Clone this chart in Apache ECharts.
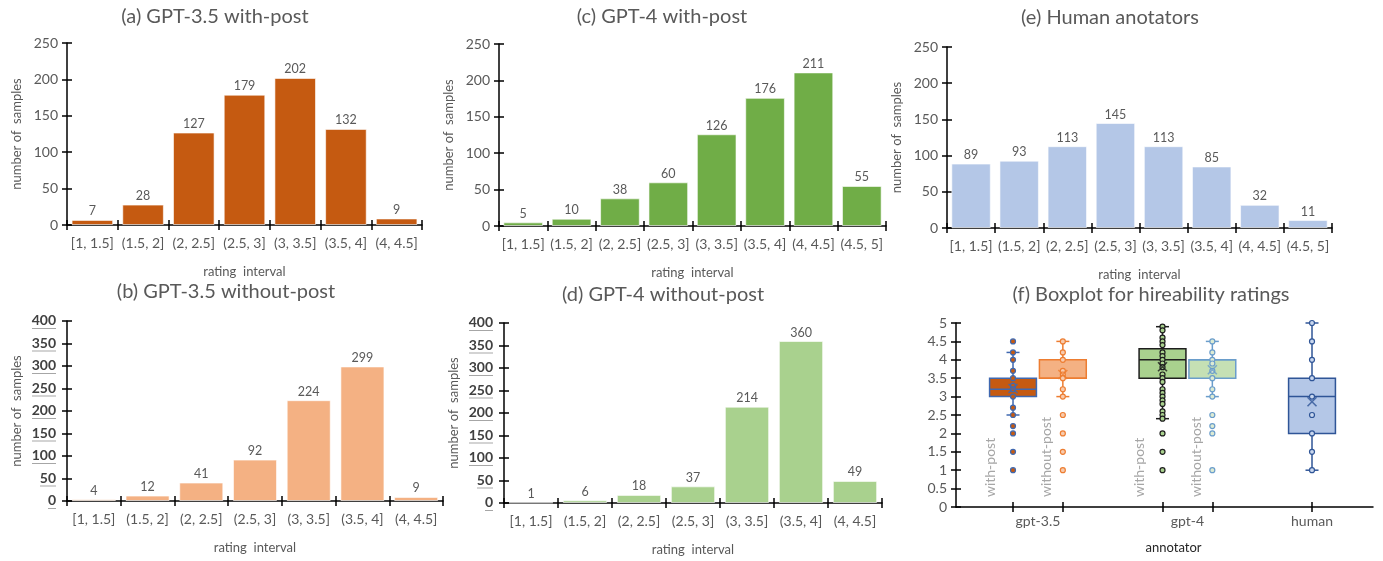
<!DOCTYPE html>
<html><head><meta charset="utf-8">
<script src="https://cdn.jsdelivr.net/npm/echarts@6/dist/echarts.min.js"></script>
<style>html,body{margin:0;padding:0;background:#fff}#c{width:1383px;height:561px}</style>
</head><body><div id="c"></div>
<script>
// ---------------- data ----------------
const intervals7 = ['[1, 1.5]', '(1.5, 2]', '(2, 2.5]', '(2.5, 3]', '(3, 3.5]', '(3.5, 4]', '(4, 4.5]'];
const intervals8 = ['[1, 1.5]', '(1.5, 2]', '(2, 2.5]', '(2.5, 3]', '(3, 3.5]', '(3.5, 4]', '(4, 4.5]', '(4.5, 5]'];
const gpt35WithPost = [7, 28, 127, 179, 202, 132, 9];
const gpt35WithoutPost = [4, 12, 41, 92, 224, 299, 9];
const gpt4WithPost = [5, 10, 38, 60, 126, 176, 211, 55];
const gpt4WithoutPost = [1, 6, 18, 37, 214, 360, 49];
const humanCounts = [89, 93, 113, 145, 113, 85, 32, 11];

const annotatorGroups = ['gpt-3.5', 'gpt-4', 'human'];
const boxGroup = [0, 0, 1, 1, 2];
const boxSub = [0, 1, 0, 1, 0];
const boxLabels = ['with-post', 'without-post', 'with-post', 'without-post', ''];
const boxWhiskerLow = [2.5, 3.0, 2.4, 3.0, 1.0];
const boxQ1 = [3.0, 3.5, 3.5, 3.5, 2.0];
const boxMedian = [3.2, 3.5, 4.0, 4.0, 3.0];
const boxQ3 = [3.5, 4.0, 4.3, 4.0, 3.5];
const boxWhiskerHigh = [4.2, 4.5, 4.9, 4.5, 5.0];
const boxMean = [3.22, 3.6, 3.81, 3.73, 2.86];
const pointsGpt35With = [4.5, 4.2, 4.0, 3.7, 3.5, 3.3, 3.2, 3.0, 2.7, 2.5, 2.2, 2.0, 1.5, 1.0];
const pointsGpt35Without = [4.5, 4.2, 4.0, 3.7, 3.6, 3.5, 3.2, 3.0, 2.5, 2.0, 1.5, 1.0];
const pointsGpt4With = [4.9, 4.8, 4.6, 4.5, 4.4, 4.2, 4.1, 4.0, 3.9, 3.8, 3.6, 3.5, 3.4, 3.2, 3.1, 3.0, 2.9, 2.8, 2.6, 2.5, 2.4, 2.0, 1.5, 1.0];
const pointsGpt4Without = [4.5, 4.2, 4.0, 3.9, 3.7, 3.5, 3.2, 3.0, 2.5, 2.2, 2.0, 1.0];
const pointsHuman = [5.0, 4.5, 4.0, 3.5, 3.0, 2.5, 2.0, 1.5, 1.0];
const boxPoints = [pointsGpt35With, pointsGpt35Without, pointsGpt4With, pointsGpt4Without, pointsHuman];

// ---------------- styles / layout ----------------
const FONT = 'Lato';
const GRAY = '#595959';
const boxFill = ['#C55A11', '#F4B183', '#A9D18E', '#C5E0B4', '#B4C7E7'];
const boxStroke = ['#3F68B0', '#ED7D31', '#1E1E1E', '#6A9DCB', '#2F5597'];
const dotFill = ['#C55A11', '#F8CBAD', '#A9D18E', '#DDEBD3', '#C9D7EE'];

const panels = [
  { title: '(a) GPT-3.5 with-post', cats: intervals7, vals: gpt35WithPost, color: '#C55A11', max: 250, rect: [67, 43, 355, 182], t: [215, 17], bold: false },
  { title: '(b) GPT-3.5 without-post', cats: intervals7, vals: gpt35WithoutPost, color: '#F4B183', max: 400, rect: [67, 321, 376, 180], t: [226, 292], bold: true },
  { title: '(c) GPT-4 with-post', cats: intervals8, vals: gpt4WithPost, color: '#70AD47', max: 250, rect: [499, 44, 387, 182], t: [662, 17], bold: false },
  { title: '(d) GPT-4 without-post', cats: intervals7, vals: gpt4WithoutPost, color: '#A9D18E', max: 400, rect: [504, 323, 378, 180], t: [663, 295], bold: true },
  { title: '(e) Human anotators', cats: intervals8, vals: humanCounts, color: '#B4C7E7', max: 250, rect: [947, 47, 385, 181], t: [1110, 18], bold: false }
];

const grids = [], xAxes = [], yAxes = [], series = [], graphics = [];
const axisLineStyle = { color: '#000', width: 1.5 };

panels.forEach((p, i) => {
  grids.push({ left: p.rect[0], top: p.rect[1], width: p.rect[2], height: p.rect[3], outerBoundsMode: 'none' });
  const xMain = {
    type: 'category', gridIndex: i, data: p.cats, position: 'bottom',
    axisLine: { show: true, lineStyle: axisLineStyle },
    axisTick: { show: true, alignWithLabel: false, interval: 0, length: 5, lineStyle: axisLineStyle },
    axisLabel: { interval: 0, color: GRAY, fontSize: 14, margin: 11, fontFamily: FONT },
    name: 'rating  interval', nameLocation: 'middle', nameGap: 40, nameMoveOverlap: false,
    nameTextStyle: { color: GRAY, fontSize: 13, fontFamily: FONT }
  };
  const xDup = {
    type: 'category', gridIndex: i, data: p.cats, position: 'bottom',
    axisLine: { show: false }, axisLabel: { show: false },
    axisTick: { show: true, inside: true, interval: 0, length: 5, lineStyle: axisLineStyle }
  };
  const labelCfg = p.bold ? {
    color: '#404040', fontSize: 14, margin: 11, fontFamily: FONT,
    formatter: v => '{n|' + v + '}\n{u' + String(v).length + '|}',
    rich: {
      n: { fontWeight: 'bold', color: '#404040', fontSize: 14, lineHeight: 15, fontFamily: FONT },
      u1: { width: 8, height: 1, backgroundColor: '#A6A6A6' },
      u2: { width: 16, height: 1, backgroundColor: '#A6A6A6' },
      u3: { width: 24, height: 1, backgroundColor: '#A6A6A6' }
    }
  } : { color: GRAY, fontSize: 14, margin: 9, fontFamily: FONT };
  const yMain = {
    type: 'value', gridIndex: i, min: 0, max: p.max, interval: 50, position: 'left',
    axisLine: { show: true, onZero: false, lineStyle: axisLineStyle },
    axisTick: { show: true, length: 5, lineStyle: axisLineStyle },
    splitLine: { show: false },
    axisLabel: labelCfg,
    name: 'number of  samples', nameLocation: 'middle', nameGap: 44, nameMoveOverlap: false,
    nameTextStyle: { color: GRAY, fontSize: 13, fontFamily: FONT }
  };
  const yDup = {
    type: 'value', gridIndex: i, min: 0, max: p.max, interval: 50, position: 'left',
    axisLine: { show: false, onZero: false }, axisLabel: { show: false }, splitLine: { show: false },
    axisTick: { show: true, inside: true, length: 5, lineStyle: axisLineStyle }
  };
  xAxes.push(xMain, xDup);
  yAxes.push(yMain, yDup);
  series.push({
    type: 'bar', xAxisIndex: 2 * i, yAxisIndex: 2 * i, data: p.vals,
    barCategoryGap: '18%',
    itemStyle: { color: p.color, borderColor: 'rgba(255,255,255,0.6)', borderWidth: 1 },
    label: { show: true, position: 'top', distance: 2, color: GRAY, fontSize: 12.5, fontFamily: FONT }
  });
  graphics.push({ type: 'text', x: p.t[0], y: p.t[1], style: { text: p.title, fill: GRAY, font: '20px Lato', align: 'center', verticalAlign: 'middle' } });
});

// ---------------- boxplot panel (f) ----------------
const fi = panels.length; // grid index 5
const slots = boxGroup.map((g, i) => g * 3 + boxSub[i]);
const groupCenters = annotatorGroups.map((g, gi) => {
  const s = slots.filter((_, i) => boxGroup[i] === gi);
  return s.reduce((a, b) => a + b, 0) / s.length;
});
const XMIN = -1.144, XMAX = 7.224;
grids.push({ left: 956, top: 323, width: 417, height: 184, outerBoundsMode: 'none' });
xAxes.push({
  type: 'value', gridIndex: fi, min: XMIN, max: XMAX, position: 'bottom',
  axisLine: { show: true, onZero: false, lineStyle: axisLineStyle },
  axisTick: { show: true, customValues: slots, length: 5, lineStyle: axisLineStyle },
  axisLabel: { customValues: groupCenters, color: GRAY, fontSize: 14, margin: 7, fontFamily: FONT,
    formatter: v => annotatorGroups[Math.floor(v / 3)] },
  splitLine: { show: false },
  name: 'annotator', nameLocation: 'middle', nameGap: 34, nameMoveOverlap: false,
  nameTextStyle: { color: '#262626', fontSize: 13, fontFamily: FONT, padding: [0, 0, 0, 18] }
}, {
  type: 'value', gridIndex: fi, min: XMIN, max: XMAX, position: 'bottom',
  axisLine: { show: false, onZero: false }, axisLabel: { show: false }, splitLine: { show: false },
  axisTick: { show: true, inside: true, customValues: slots, length: 5, lineStyle: axisLineStyle }
});
yAxes.push({
  type: 'value', gridIndex: fi, min: 0, max: 5, interval: 0.5, position: 'left',
  axisLine: { show: true, onZero: false, lineStyle: axisLineStyle },
  axisTick: { show: true, length: 5, lineStyle: axisLineStyle },
  splitLine: { show: false },
  axisLabel: { color: GRAY, fontSize: 14, margin: 9, fontFamily: FONT }
}, {
  type: 'value', gridIndex: fi, min: 0, max: 5, interval: 0.5, position: 'left',
  axisLine: { show: false, onZero: false }, axisLabel: { show: false }, splitLine: { show: false },
  axisTick: { show: true, inside: true, length: 5, lineStyle: axisLineStyle }
});

const boxData = slots.map((s, i) => [s, boxWhiskerLow[i], boxQ1[i], boxMedian[i], boxQ3[i], boxWhiskerHigh[i]]);
series.push({
  type: 'custom', xAxisIndex: 2 * fi, yAxisIndex: 2 * fi, data: boxData, z: 2,
  encode: { x: 0, y: [1, 2, 3, 4, 5] },
  renderItem: (params, api) => {
    const i = params.dataIndex;
    const x = api.value(0);
    const lo = api.coord([x, api.value(1)]);
    const q1 = api.coord([x, api.value(2)]);
    const md = api.coord([x, api.value(3)]);
    const q3 = api.coord([x, api.value(4)]);
    const hi = api.coord([x, api.value(5)]);
    const bw = api.size([0.94, 0])[0];
    const cx = lo[0];
    const cap = 6.5;
    const stroke = boxStroke[i];
    const ls = { stroke: stroke, lineWidth: 1.5, fill: null };
    const children = [
      { type: 'line', shape: { x1: cx, y1: q3[1], x2: cx, y2: hi[1] }, style: ls },
      { type: 'line', shape: { x1: cx, y1: q1[1], x2: cx, y2: lo[1] }, style: ls },
      { type: 'line', shape: { x1: cx - cap, y1: hi[1], x2: cx + cap, y2: hi[1] }, style: ls },
      { type: 'line', shape: { x1: cx - cap, y1: lo[1], x2: cx + cap, y2: lo[1] }, style: ls },
      { type: 'rect', shape: { x: cx - bw / 2, y: q3[1], width: bw, height: q1[1] - q3[1] }, style: { fill: boxFill[i], stroke: stroke, lineWidth: 1.5 } },
      { type: 'line', shape: { x1: cx - bw / 2, y1: md[1], x2: cx + bw / 2, y2: md[1] }, style: ls }
    ];
    if (boxLabels[i]) {
      const tp = api.coord([x, 0.27]);
      children.push({
        type: 'text', x: tp[0] + (boxSub[i] === 0 ? -23 : -16), y: tp[1], rotation: Math.PI / 2,
        style: { text: boxLabels[i], fill: '#A6A6A6', font: '14px Lato', align: 'left', verticalAlign: 'middle' }
      });
    }
    return { type: 'group', children: children };
  }
});
const dotData = [];
boxPoints.forEach((pts, i) => pts.forEach(v => dotData.push({
  value: [slots[i], v], itemStyle: { color: dotFill[i], borderColor: boxStroke[i] }
})));
series.push({
  type: 'scatter', xAxisIndex: 2 * fi, yAxisIndex: 2 * fi, z: 3, symbol: 'circle', symbolSize: 5,
  itemStyle: { borderWidth: 1.2, opacity: 1 }, data: dotData, silent: true
});
series.push({
  type: 'scatter', xAxisIndex: 2 * fi, yAxisIndex: 2 * fi, z: 4,
  symbol: 'path://M0,0L10,10M10,0L0,10', symbolSize: 9,
  data: boxMean.map((m, i) => ({ value: [slots[i], m], itemStyle: { color: 'rgba(0,0,0,0)', borderColor: boxStroke[i], borderWidth: 1.6 } }))
});
graphics.push({ type: 'text', x: 1151, y: 295, style: { text: '(f) Boxplot for hireability ratings', fill: GRAY, font: '20px Lato', align: 'center', verticalAlign: 'middle' } });

const chart = echarts.init(document.getElementById('c'), null, { renderer: 'canvas' });
chart.setOption({
  animation: false,
  backgroundColor: '#fff',
  textStyle: { fontFamily: FONT },
  grid: grids, xAxis: xAxes, yAxis: yAxes, series: series, graphic: graphics
});
</script></body></html>
